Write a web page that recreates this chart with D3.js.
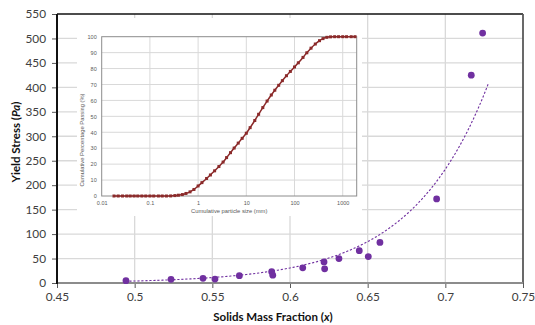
<!DOCTYPE html>
<html><head><meta charset="utf-8">
<script src="https://cdn.jsdelivr.net/npm/d3@7"></script>
<style>
body{margin:0;background:#fff;}
svg{display:block;font-family:Lato,"Liberation Sans",sans-serif;}
</style></head>
<body><svg id="c" width="535" height="325"></svg>
<script>
// ---- main chart data ----
const solidsFraction = [0.4944,0.5234,0.5440,0.5517,0.5674,0.5882,0.5889,0.6082,0.6219,0.6223,0.6315,0.6446,0.6504,0.6579,0.6944,0.7167,0.7240];
const yieldStress    = [4.7,7.6,9.6,8.0,15,23,16,31,43,29,50,66,54,83,172,425,511];
const xTicks = [0.45,0.5,0.55,0.6,0.65,0.7,0.75];
const yTicks = [0,50,100,150,200,250,300,350,400,450,500,550];
// exponential trendline: y = a*exp(b*x)
const trendA = 1.636e-4, trendB = 20.24, trendFrom = 0.494, trendTo = 0.7277;

// ---- inset (particle size distribution) ----
const particleSize = [0.018,0.022,0.027,0.033,0.039,0.047,0.056,0.068,0.082,0.1,0.12,0.15,0.18,0.22,0.27,0.33,0.39,0.47,0.56,0.68,0.82,
  1,1.2,1.5,1.8,2.2,2.7,3.3,3.9,4.7,5.6,6.8,8.2,10,12,15,18,22,27,33,39,47,56,68,82,100,120,150,180,220,270,330,390,470,560,680,820,1000,1200,1500,1800];
const percentPassing = [0,0,0,0,0,0,0,0,0,0,0,0,0,0,0.05,0.25,0.5,0.9,1.6,2.6,4.1,
  6.3,8.4,11.0,13.2,15.8,18.5,21.3,24.1,27.2,30.1,33.2,36.2,39.4,42.9,47.4,51.3,55.5,59.6,63.4,66.4,69.5,72.4,75.5,78.2,81.0,83.6,87.0,89.9,92.8,95.4,97.5,98.8,99.6,99.9,100,100,100,100,100,100];
const insetXTicks = [0.01,0.1,1,10,100,1000];
const insetXLabels = ["0.01","0.1","1","10","100","1000"];
const insetYTicks = [0,10,20,30,40,50,60,70,80,90,100];

const svg = d3.select("#c");
const L=57,R=523,T=14,B=283;
const x = d3.scaleLinear([0.45,0.75],[L,R]);
const y = d3.scaleLinear([0,550],[B,T]);

// gridlines
const g = svg.append("g");
g.selectAll(".hg").data(yTicks.filter(d=>d>0&&d<550)).join("line")
 .attr("x1",L).attr("x2",R).attr("y1",d=>y(d)).attr("y2",d=>y(d))
 .attr("stroke","#d9d9d9").attr("stroke-width",1.3);
g.selectAll(".vg").data(xTicks.filter(d=>d>0.45&&d<0.75)).join("line")
 .attr("y1",T).attr("y2",B).attr("x1",d=>x(d)).attr("x2",d=>x(d))
 .attr("stroke","#d9d9d9").attr("stroke-width",1.3);

// axes
const ya = svg.append("g").attr("transform",`translate(${L},0)`)
 .call(d3.axisLeft(y).tickValues(yTicks).tickSize(5).tickPadding(6).tickFormat(d3.format("d")));
const xa = svg.append("g").attr("transform",`translate(0,${B})`)
 .call(d3.axisBottom(x).tickValues(xTicks).tickSize(5).tickPadding(5).tickFormat(d=>String(d)));
[ya,xa].forEach(a=>{a.select(".domain").remove();
 a.selectAll("text").attr("font-size",11.8).attr("fill","#404040").attr("font-family","Lato,sans-serif");
 a.selectAll("line").attr("stroke","#595959");});

// inset white box
svg.append("rect").attr("x",77).attr("y",18).attr("width",285).attr("height",198).attr("fill","#fff");

// plot borders
svg.append("line").attr("x1",L).attr("x2",R).attr("y1",T).attr("y2",T).attr("stroke","#111").attr("stroke-width",1.5);
svg.append("line").attr("x1",R).attr("x2",R).attr("y1",T).attr("y2",B).attr("stroke","#595959").attr("stroke-width",1.8);
svg.append("line").attr("x1",L).attr("x2",R).attr("y1",B).attr("y2",B).attr("stroke","#8c8c8c").attr("stroke-width",2);
svg.append("line").attr("x1",L).attr("x2",L).attr("y1",T).attr("y2",B+1).attr("stroke","#111").attr("stroke-width",2);

// ---- inset ----
const IL=101.7, IR=356.7, IT=36.7, IB=196;
const ix = d3.scaleLog([0.01,1950],[IL,IR]);
const iy = d3.scaleLinear([0,100],[IB,IT]);
const ig = svg.append("g");
ig.selectAll(".ihg").data(insetYTicks.filter(d=>d>0&&d<100)).join("line")
 .attr("x1",IL).attr("x2",IR).attr("y1",d=>iy(d)).attr("y2",d=>iy(d)).attr("stroke","#d9d9d9").attr("stroke-width",1);
ig.selectAll(".ivg").data(insetXTicks.filter(d=>d>0.01)).join("line")
 .attr("y1",IT).attr("y2",IB).attr("x1",d=>ix(d)).attr("x2",d=>ix(d)).attr("stroke","#d9d9d9").attr("stroke-width",1);
ig.append("rect").attr("x",IL).attr("y",IT).attr("width",IR-IL).attr("height",IB-IT)
 .attr("fill","none").attr("stroke","#8c8c8c").attr("stroke-width",1);
const iya = ig.append("g").attr("transform",`translate(${IL},0)`)
 .call(d3.axisLeft(iy).tickValues(insetYTicks).tickSize(0).tickPadding(5));
const ixa = ig.append("g").attr("transform",`translate(0,${IB})`)
 .call(d3.axisBottom(ix).tickValues(insetXTicks).tickSize(0).tickPadding(5).tickFormat((d,i)=>insetXLabels[i]));
[iya,ixa].forEach(a=>{a.select(".domain").remove();
 a.selectAll("text").attr("font-size",5.5).attr("fill","#595959").attr("font-family","Liberation Sans,sans-serif");});
ig.append("text").attr("x",(IL+IR)/2).attr("y",213).attr("text-anchor","middle")
 .attr("font-size",5.8).attr("fill","#595959").attr("font-family","Liberation Sans,sans-serif").text("Cumulative particle size (mm)");
ig.append("text").attr("transform","translate(84,140) rotate(-90)").attr("text-anchor","middle")
 .attr("font-size",5.8).attr("fill","#595959").attr("font-family","Liberation Sans,sans-serif").text("Cumulative Percentage Passing (%)");
const psd = particleSize.map((s,i)=>({s,p:percentPassing[i]}));
ig.append("path").datum(psd).attr("fill","none").attr("stroke","#8b2a2a").attr("stroke-width",1.5)
 .attr("d",d3.line().curve(d3.curveMonotoneX).x(d=>ix(d.s)).y(d=>iy(d.p)));
ig.selectAll(".pm").data(psd).join("rect")
 .attr("x",d=>ix(d.s)-1.5).attr("y",d=>iy(d.p)-1.5).attr("width",3).attr("height",3).attr("fill","#8b2a2a");

// ---- trendline ----
const tx = d3.range(trendFrom,trendTo,0.002).concat([trendTo]);
svg.append("path").datum(tx).attr("fill","none").attr("stroke","#7030a0").attr("stroke-width",1.1)
 .attr("stroke-dasharray","2.2,1.8")
 .attr("d",d3.line().x(d=>x(d)).y(d=>y(trendA*Math.exp(trendB*d))));

// ---- points ----
svg.selectAll(".pt").data(solidsFraction.map((v,i)=>({v,s:yieldStress[i]}))).join("circle")
 .attr("cx",d=>x(d.v)).attr("cy",d=>y(d.s)).attr("r",3.4).attr("fill","#7030a0");

// titles
const xt = svg.append("text").attr("x",273).attr("y",321).attr("text-anchor","middle")
 .attr("font-size",11.5).attr("font-weight","bold").attr("fill","#111");
xt.append("tspan").text("Solids Mass Fraction (");
xt.append("tspan").attr("font-style","italic").text("x");
xt.append("tspan").text(")");
const yt = svg.append("text").attr("transform","translate(20,142) rotate(-90)").attr("text-anchor","middle")
 .attr("font-size",11.5).attr("font-weight","bold").attr("fill","#111");
yt.append("tspan").text("Yield Stress (");
yt.append("tspan").attr("font-style","italic").text("Pa");
yt.append("tspan").text(")");
</script></body></html>
